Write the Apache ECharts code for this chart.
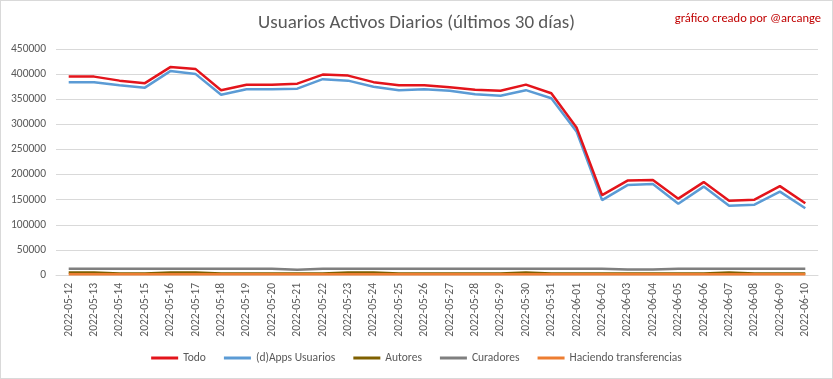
<!DOCTYPE html>
<html>
<head>
<meta charset="utf-8">
<script src="https://cdn.jsdelivr.net/npm/echarts@6/dist/echarts.min.js"></script>
<style>
html,body{margin:0;padding:0;background:#fff;}
#wrap{position:relative;width:833px;height:379px;}
#c{width:833px;height:379px;}
#frame{position:absolute;left:0;top:0;width:833px;height:379px;box-sizing:border-box;border:1px solid #d9d9d9;pointer-events:none;}
</style>
</head>
<body>
<div id="wrap"><div id="c"></div><div id="frame"></div></div>
<script>
const categories = ["2022-05-12","2022-05-13","2022-05-14","2022-05-15","2022-05-16","2022-05-17","2022-05-18","2022-05-19","2022-05-20","2022-05-21","2022-05-22","2022-05-23","2022-05-24","2022-05-25","2022-05-26","2022-05-27","2022-05-28","2022-05-29","2022-05-30","2022-05-31","2022-06-01","2022-06-02","2022-06-03","2022-06-04","2022-06-05","2022-06-06","2022-06-07","2022-06-08","2022-06-09","2022-06-10"];
const todo = [395000,395000,387000,382000,414000,410000,368000,379000,379000,381000,399000,397000,384000,378000,378000,374000,369000,367000,379000,362000,293000,159000,188000,189000,152000,185000,148000,150000,177000,143000];
const apps = [384000,384000,378000,373000,406000,400000,359000,370000,370000,371000,390000,387000,375000,368000,370000,367000,360000,357000,368000,352000,285000,149000,179000,181000,142000,176000,138000,140000,166000,133000];
const autores = [5000,5000,3000,3000,5000,5000,3000,3000,3000,3000,3000,5000,5000,3000,3000,3000,3000,3000,4800,3000,3000,3000,3000,3000,3000,3000,4800,3000,3000,3000];
const curadores = [12500,12500,12500,12500,12500,12500,12500,12500,12500,10500,12500,12500,12500,12500,12500,12500,12500,12500,12500,12500,12500,12500,11000,11000,12500,12500,12500,12500,12500,12500];
const transferencias = [1500,1500,1500,1500,1500,1500,1500,1500,1500,1500,1500,1500,1500,1500,1500,1500,1500,1500,1500,1500,1500,1500,1500,1500,1500,1500,1500,1500,1500,1500];
const seriesNames = ["Todo","(d)Apps Usuarios","Autores","Curadores","Haciendo transferencias"];
const seriesColors = ["#E3141B","#5B9BD5","#7F6000","#7F7F7F","#ED7D31"];

const FONT = 'Carlito, "Liberation Sans Narrow", "Noto Sans", sans-serif';
const chart = echarts.init(document.getElementById('c'), null, {renderer:'canvas'});
const dataArr = [todo, apps, autores, curadores, transferencias];
const order = [3,2,4,1,0];
const series = order.map(i => ({
  name: seriesNames[i],
  type: 'line',
  data: dataArr[i],
  symbol: 'none',
  smooth: false,
  z: 2 + order.indexOf(i),
  lineStyle: {color: seriesColors[i], width: 2.5},
  itemStyle: {color: seriesColors[i]}
}));
chart.setOption({
  animation: false,
  backgroundColor: '#fff',
  title: [{
    text: 'Usuarios Activos Diarios (últimos 30 días)',
    left: 'center', top: 9,
    textStyle: {fontFamily: FONT, fontSize: 19, fontWeight: 'normal', color: '#595959'}
  },{
    text: 'gráfico creado por @arcange',
    right: 7, top: 7,
    textStyle: {fontFamily: FONT, fontSize: 12.5, fontWeight: 'normal', color: '#C00000'}
  }],
  legend: {
    data: seriesNames,
    bottom: 10, left: 'center',
    itemWidth: 27, itemHeight: 3, itemGap: 18,
    icon: 'rect',
    textStyle: {fontFamily: FONT, fontSize: 11.5, color: '#595959'}
  },
  grid: {left: 56, right: 15, top: 49, bottom: 104, containLabel: false},
  xAxis: {
    type: 'category',
    data: categories,
    boundaryGap: true,
    axisLine: {show: true, lineStyle: {color: '#d9d9d9', width: 1}},
    axisTick: {show: false},
    axisLabel: {rotate: 90, interval: 0, margin: 8, fontFamily: FONT, fontSize: 11.5, color: '#595959'}
  },
  yAxis: {
    type: 'value',
    min: 0, max: 450000, interval: 50000,
    axisLine: {show: false},
    axisTick: {show: false},
    splitLine: {lineStyle: {color: '#d9d9d9', width: 1}},
    axisLabel: {margin: 10, fontFamily: FONT, fontSize: 11.5, color: '#595959', formatter: v => String(v)}
  },
  series: series
});
</script>
</body>
</html>
